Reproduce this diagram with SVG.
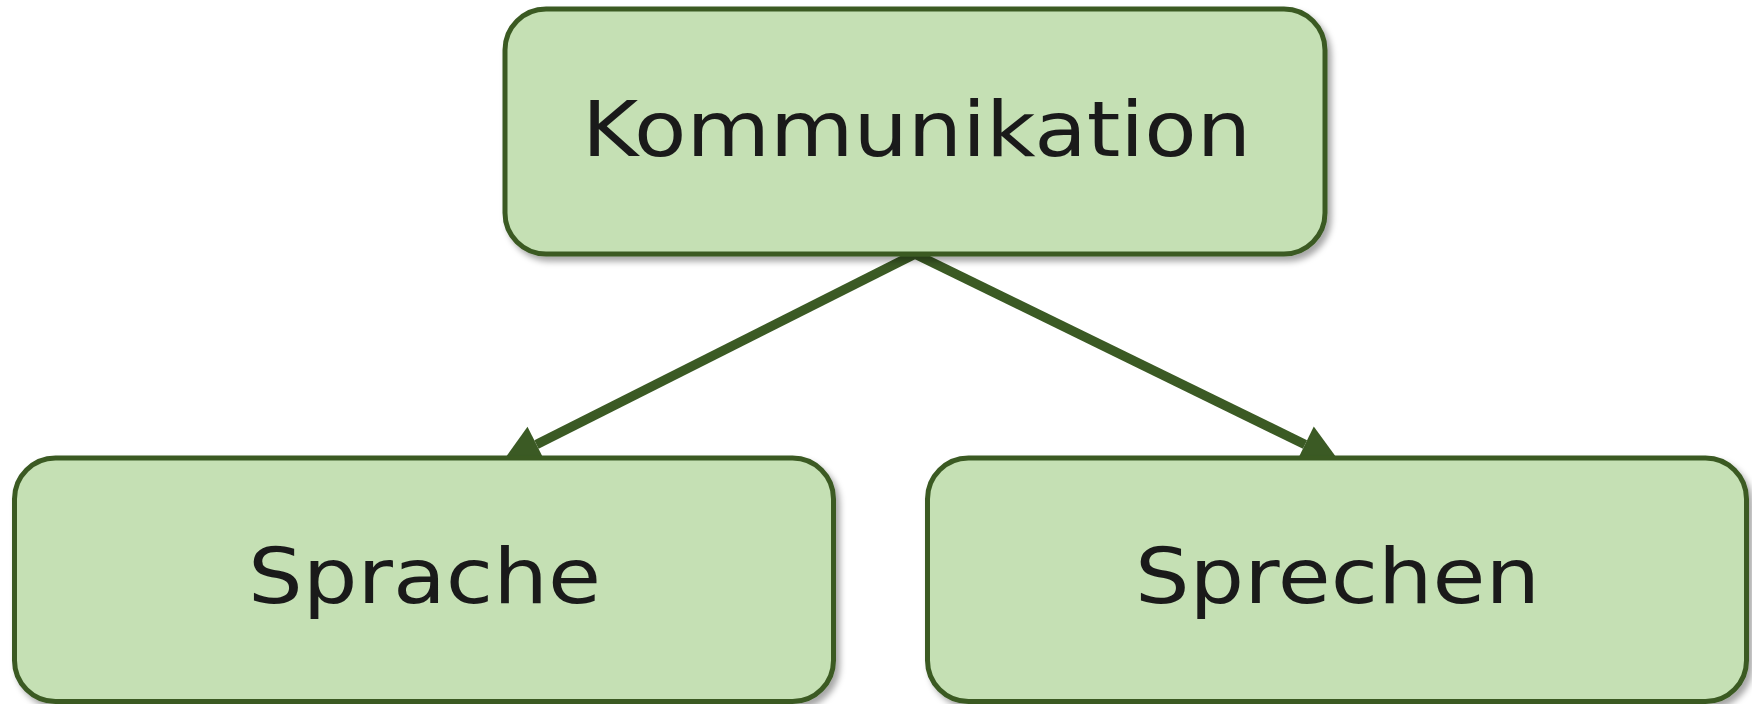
<svg xmlns="http://www.w3.org/2000/svg" width="1752" height="704" viewBox="0 0 1752 704">
  <style>
    .box { fill: #c5e0b4; stroke: #3b5a24; stroke-width: 5; filter: url(#shadow); }
    .lbl { font-family: "DejaVu Sans", "Liberation Sans", sans-serif; font-size: 76px; fill: #1a1a1a; }
    .conn { stroke: #3b5a24; stroke-width: 9.5; fill: none; marker-end: url(#arrow); }
  </style>
  <defs>
    <filter id="shadow" x="-10%" y="-10%" width="125%" height="130%">
      <feDropShadow dx="4" dy="5" stdDeviation="3" flood-color="#000" flood-opacity="0.35"/>
    </filter>
    <marker id="arrow" markerUnits="userSpaceOnUse" markerWidth="40" markerHeight="42" refX="0" refY="20" orient="auto" overflow="visible">
      <path d="M0,0 L38,20 L0,40 z" fill="#3b5a24"/>
    </marker>
  </defs>
  <rect width="1752" height="704" fill="#ffffff"/>
  <g id="connectors">
    <line class="conn" x1="915" y1="254" x2="536.5" y2="444.6"/>
    <line class="conn" x1="915" y1="254" x2="1305" y2="444.5"/>
  </g>
  <g id="node-kommunikation">
    <rect class="box" x="505" y="9" width="820" height="245" rx="41" ry="41"/>
    <text class="lbl" x="582" y="156" textLength="669" lengthAdjust="spacingAndGlyphs">Kommunikation</text>
  </g>
  <g id="node-sprache">
    <rect class="box" x="14.5" y="458" width="819" height="243.5" rx="41" ry="41"/>
    <text class="lbl" x="248" y="603" textLength="353" lengthAdjust="spacingAndGlyphs">Sprache</text>
  </g>
  <g id="node-sprechen">
    <rect class="box" x="927.5" y="458" width="819" height="243.5" rx="41" ry="41"/>
    <text class="lbl" x="1135" y="603" textLength="405" lengthAdjust="spacingAndGlyphs">Sprechen</text>
  </g>
</svg>
